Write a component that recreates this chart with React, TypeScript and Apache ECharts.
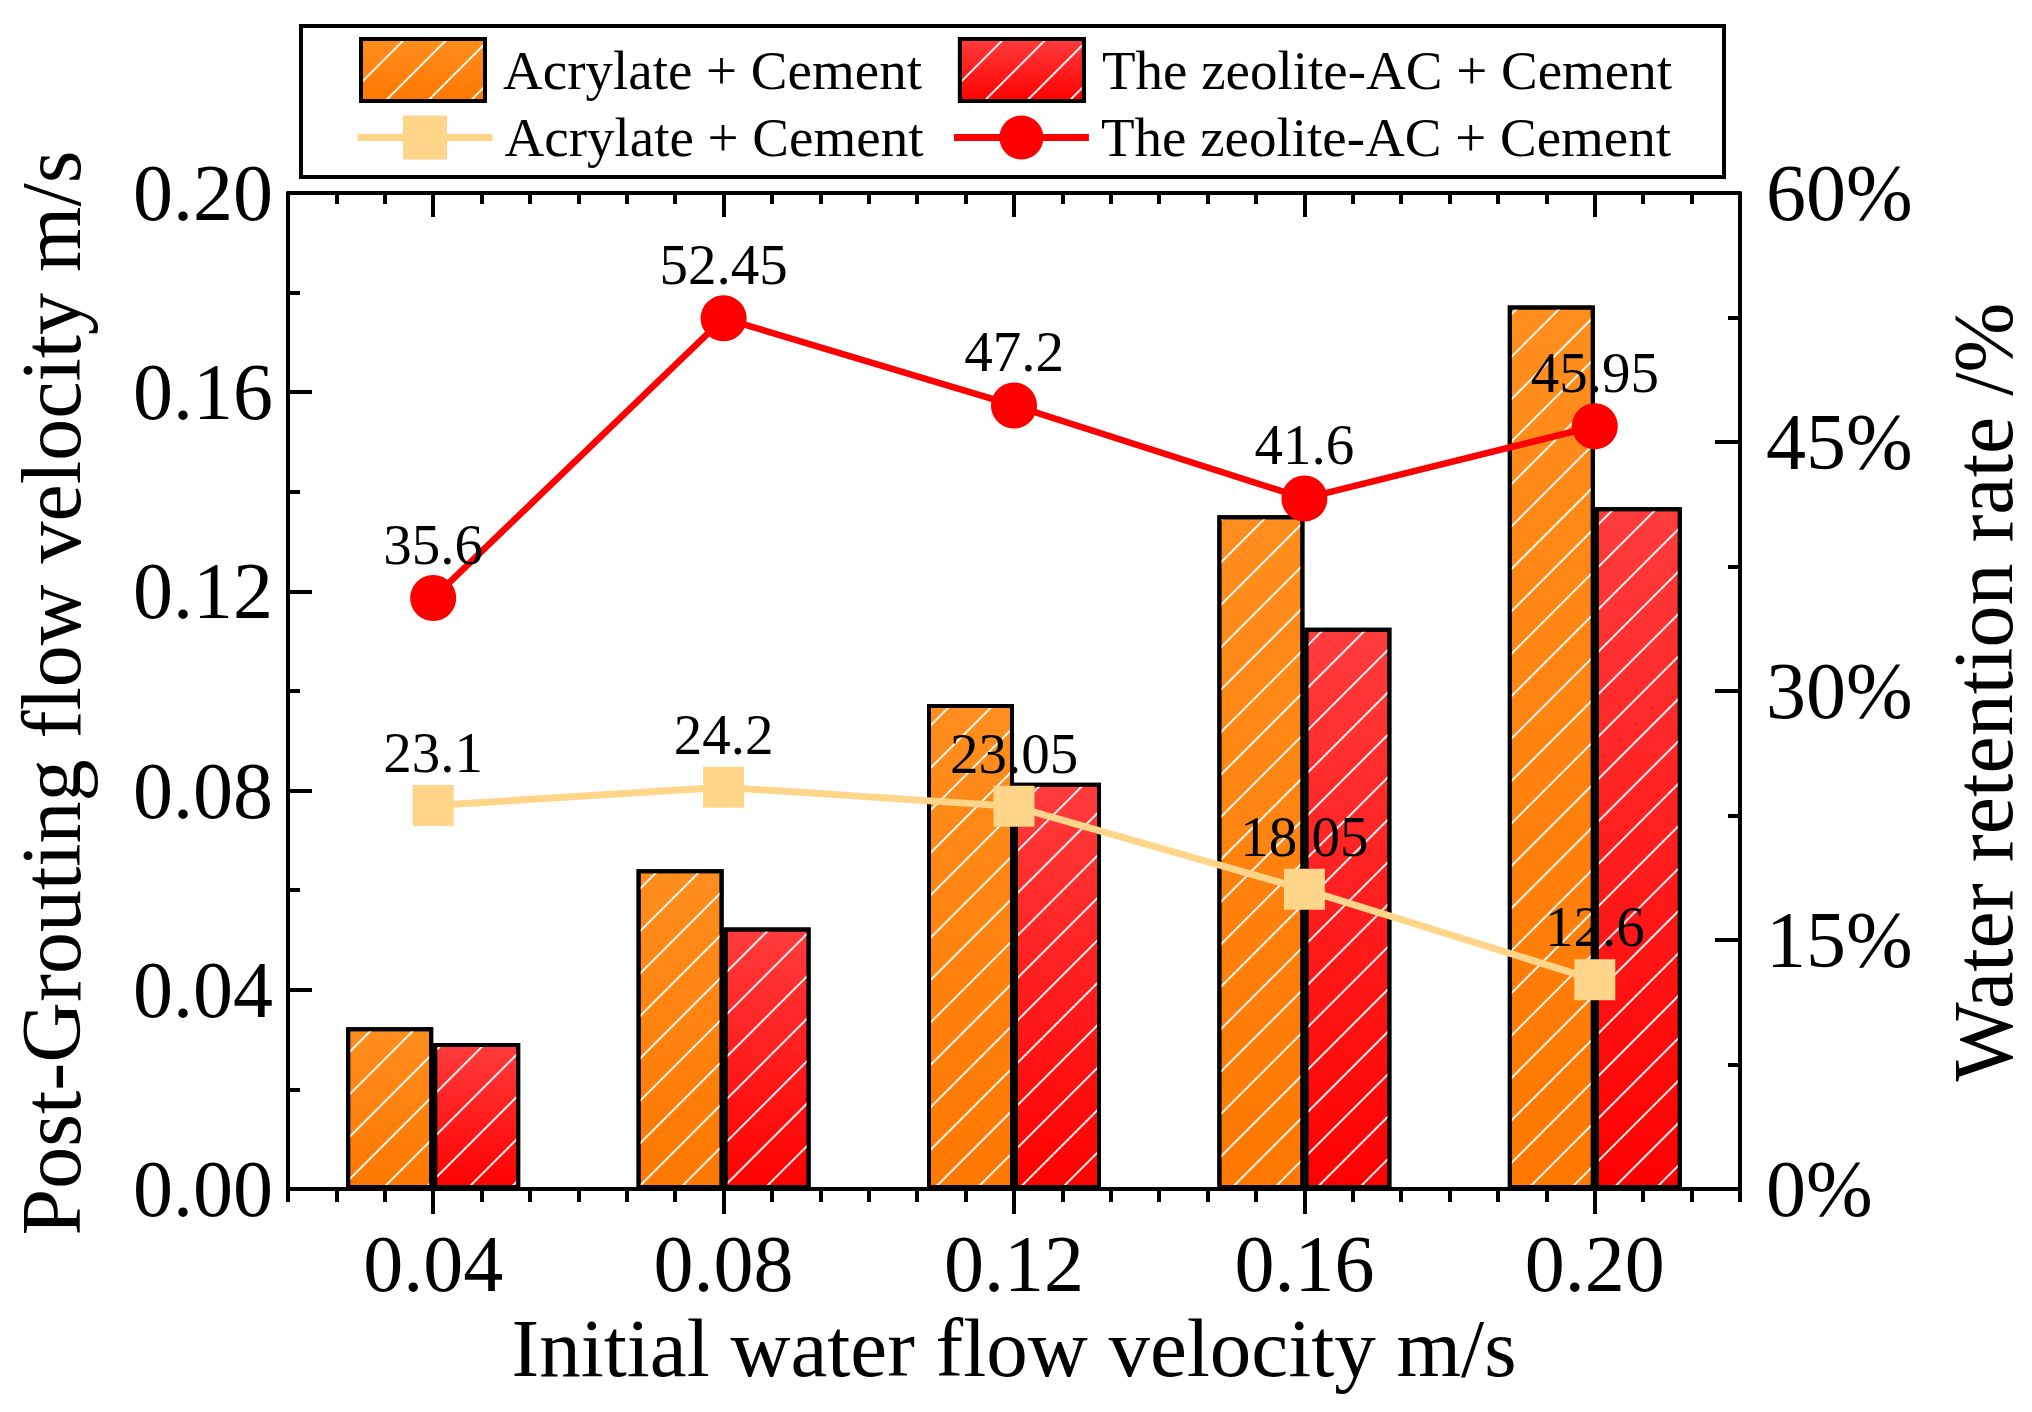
import React, { useEffect, useRef } from "react";
import * as echarts from "echarts";

const categories = ["0.04", "0.08", "0.12", "0.16", "0.20"];
const acrylateVelocity = [0.0325, 0.0642, 0.0974, 0.1353, 0.1774];
const zeoliteVelocity = [0.0293, 0.0525, 0.0816, 0.1127, 0.1369];
const acrylateRetention = [23.1, 24.2, 23.05, 18.05, 12.6];
const zeoliteRetention = [35.6, 52.45, 47.2, 41.6, 45.95];
const minorSlots = ["", "", "", "", "", "", "", "", "", "", "", "", "", "", "", "", "", "", "", "", "", "", "", "", "", "", "", "", "", ""];

const BAR_A = "Acrylate + Cement";
const BAR_Z = "The zeolite-AC + Cement";
const LINE_A = "Acrylate + Cement ";
const LINE_Z = "The zeolite-AC + Cement ";

const FONT = "'Liberation Serif', 'Times New Roman', serif";

const hatch = {
  symbol: "rect",
  symbolSize: 1,
  color: "rgba(255,255,255,0.92)",
  dashArrayX: [1, 0],
  dashArrayY: [2, 28],
  rotation: -Math.PI / 4,
};

export default function App() {
  const ref = useRef<HTMLDivElement>(null);
  useEffect(() => {
    document.body.style.margin = "0";
    const chart = echarts.init(ref.current!, undefined, { renderer: "svg" });
    const axisLine = { show: true, lineStyle: { color: "#000", width: 4 } };
    const option: any = {
      animation: false,
      backgroundColor: "#fff",
      grid: { left: 288, top: 193, width: 1452, height: 996, containLabel: false, outerBoundsMode: "none" },
      legend: [
        {
          data: [BAR_A, BAR_Z],
          left: 359,
          top: 37,
          padding: 0,
          z: 10,
          orient: "horizontal",
          itemWidth: 124,
          itemHeight: 62,
          itemGap: 36,
          icon: "rect",
          selectedMode: false,
          itemStyle: { borderColor: "#000", borderWidth: 4 },
          textStyle: { fontFamily: FONT, fontSize: 55, color: "#000", padding: [0, 0, 0, 13] },
        },
        {
          data: [LINE_A, LINE_Z],
          left: 354,
          top: 110,
          padding: 0,
          z: 10,
          orient: "horizontal",
          itemWidth: 135,
          itemHeight: 55,
          itemGap: 27,
          selectedMode: false,
          formatter: (name: string) => name.trim(),
          itemStyle: { borderWidth: 0 },
          lineStyle: { width: 7 },
          textStyle: { fontFamily: FONT, fontSize: 55, color: "#000", padding: [0, 0, 0, 7] },
        },
      ],
      graphic: [
        {
          type: "rect",
          z: 1,
          shape: { x: 301, y: 26, width: 1423, height: 151 },
          style: { fill: "#fff", stroke: "#000", lineWidth: 4 },
        },
        {
          type: "text",
          x: 1014,
          y: 1348,
          style: { text: "Initial water flow velocity m/s", font: `83px ${FONT}`, fill: "#000", align: "center", verticalAlign: "middle" },
        },
        {
          type: "text",
          x: 51,
          y: 693,
          rotation: Math.PI / 2,
          style: { text: "Post-Grouting flow velocity m/s", font: `84px ${FONT}`, fill: "#000", align: "center", verticalAlign: "middle" },
        },
        {
          type: "text",
          x: 1983,
          y: 692,
          rotation: Math.PI / 2,
          style: { text: "Water retention rate /%", font: `84px ${FONT}`, fill: "#000", align: "center", verticalAlign: "middle" },
        },
      ],
      xAxis: [
        {
          type: "category",
          data: categories,
          position: "bottom",
          axisLine,
          axisTick: { show: true, alignWithLabel: true, length: 25, lineStyle: { color: "#000", width: 4 } },
          axisLabel: { fontFamily: FONT, fontSize: 80, color: "#000", margin: 35 },
          splitLine: { show: false },
        },
        {
          type: "category",
          data: minorSlots,
          position: "bottom",
          axisLine: { show: false },
          axisTick: { show: true, interval: 0, length: 13, lineStyle: { color: "#000", width: 4 } },
          axisLabel: { show: false },
          splitLine: { show: false },
        },
        {
          type: "category",
          data: categories,
          position: "top",
          axisLine,
          axisTick: { show: true, inside: true, alignWithLabel: true, length: 24, lineStyle: { color: "#000", width: 4 } },
          axisLabel: { show: false },
          splitLine: { show: false },
        },
        {
          type: "category",
          data: minorSlots,
          position: "top",
          axisLine: { show: false },
          axisTick: { show: true, inside: true, interval: 0, length: 11, lineStyle: { color: "#000", width: 4 } },
          axisLabel: { show: false },
          splitLine: { show: false },
        },
      ],
      yAxis: [
        {
          type: "value",
          min: 0,
          max: 0.2,
          interval: 0.04,
          position: "left",
          axisLine,
          axisTick: { show: true, inside: true, length: 24, lineStyle: { color: "#000", width: 4 } },
          minorTick: { show: true, splitNumber: 2, length: 12, lineStyle: { color: "#000", width: 4 } },
          axisLabel: { fontFamily: FONT, fontSize: 80, color: "#000", margin: 15, formatter: (v: number) => v.toFixed(2) },
          splitLine: { show: false },
        },
        {
          type: "value",
          min: 0,
          max: 60,
          interval: 15,
          position: "right",
          axisLine,
          axisTick: { show: true, inside: true, length: 25, lineStyle: { color: "#000", width: 4 } },
          minorTick: { show: true, splitNumber: 2, length: 12, lineStyle: { color: "#000", width: 4 } },
          axisLabel: { fontFamily: FONT, fontSize: 80, color: "#000", margin: 26, formatter: (v: number) => `${v}%` },
          splitLine: { show: false },
        },
      ],
      series: [
        {
          type: "bar",
          name: BAR_A,
          data: acrylateVelocity,
          xAxisIndex: 0,
          yAxisIndex: 0,
          barWidth: 87,
          barGap: "0%",
          itemStyle: {
            color: new echarts.graphic.LinearGradient(0, 0, 0, 1, [
              { offset: 0, color: "#FF8E1E" },
              { offset: 1, color: "#FF7800" },
            ]),
            borderColor: "#000",
            borderWidth: 4,
            decal: hatch,
          },
        },
        {
          type: "bar",
          name: BAR_Z,
          data: zeoliteVelocity,
          xAxisIndex: 0,
          yAxisIndex: 0,
          barWidth: 87,
          barGap: "0%",
          itemStyle: {
            color: new echarts.graphic.LinearGradient(0, 0, 0, 1, [
              { offset: 0, color: "#FF3C3C" },
              { offset: 1, color: "#FF0000" },
            ]),
            borderColor: "#000",
            borderWidth: 4,
            decal: hatch,
          },
        },
        {
          type: "line",
          name: LINE_A,
          data: acrylateRetention,
          xAxisIndex: 0,
          yAxisIndex: 1,
          symbol: "rect",
          symbolSize: 41,
          itemStyle: { color: "#FFD58A" },
          lineStyle: { color: "#FFD58A", width: 7 },
          label: { show: true, position: "top", distance: 4, fontFamily: FONT, fontSize: 57, color: "#000" },
          z: 5,
        },
        {
          type: "line",
          name: LINE_Z,
          data: zeoliteRetention,
          xAxisIndex: 0,
          yAxisIndex: 1,
          symbol: "circle",
          symbolSize: 46,
          itemStyle: { color: "#FF0000" },
          lineStyle: { color: "#FF0000", width: 6.5 },
          label: { show: true, position: "top", distance: 2, fontFamily: FONT, fontSize: 57, color: "#000" },
          z: 5,
        },
      ],
    };
    chart.setOption(option);
    return () => chart.dispose();
  }, []);
  return <div ref={ref} style={{ width: 2032, height: 1412 }} />;
}
